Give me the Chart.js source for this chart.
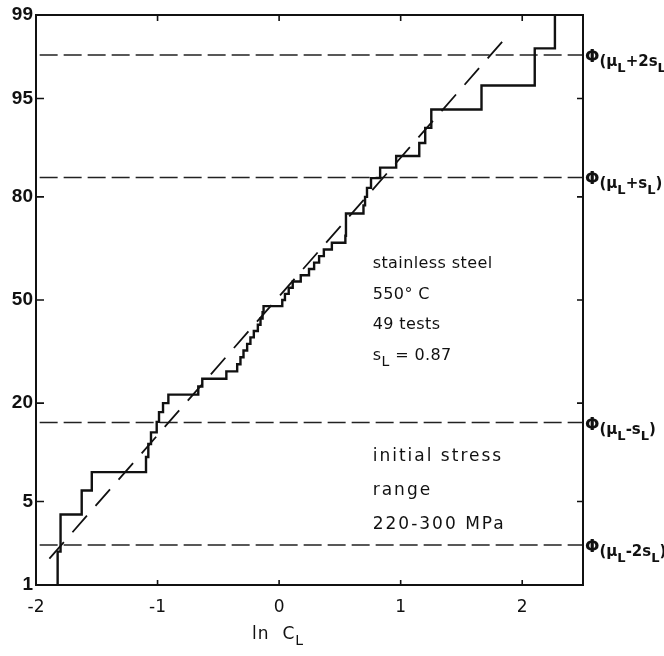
<!DOCTYPE html>
<html><head><meta charset="utf-8">
<script src="https://cdn.jsdelivr.net/npm/chart.js@4.4.1/dist/chart.umd.min.js"></script>
<style>html,body{margin:0;padding:0;background:#fff}</style>
</head><body>
<canvas id="c" width="664" height="656"></canvas>
<script>
// ---------- data ----------
const probTicks = [1, 5, 20, 50, 80, 95, 99];      // y tick labels, % (probability scale)
const xTicks = [-2, -1, 0, 1, 2];                   // ln C_L ticks
const xRange = [-2, 2.5];
const yRangePct = [1, 99];
// empirical distribution of 49 tests: ln C_L at which each step occurs
const lnC = [-1.822, -1.798, -1.624, -1.541, -1.095, -1.076, -1.054, -1.007, -0.988, -0.955,
             -0.911, -0.665, -0.632, -0.434, -0.345, -0.318, -0.293, -0.263, -0.236, -0.208,
             -0.175, -0.153, -0.136, -0.128, 0.026, 0.048, 0.079, 0.112, 0.178, 0.246,
             0.288, 0.329, 0.368, 0.434, 0.545, 0.550, 0.550, 0.550, 0.694, 0.707,
             0.723, 0.756, 0.831, 0.963, 1.153, 1.202, 1.252, 1.665, 2.103];
// cumulative percentage reached at each step
const cumPct = [2, 4, 6, 8, 10, 12, 14, 16, 18, 20, 22, 24, 26, 28, 30, 32, 34, 36, 38, 40,
                42, 44, 46, 48, 50, 52, 54, 56, 58, 60, 62, 64, 66, 68, 70, 72, 74, 76, 78, 80,
                82, 84, 86, 88, 90, 92, 94, 96, 98];
const stairEndLnC = 2.269;   // last vertical rise to top of scale
const stairEndPct = 99;
// fitted normal line (dashed)
const fitLnC = [-1.89, 1.90];
const fitPct = [1.74, 98.54];
// reference levels in units of s_L
const refSigma = [2, 1, -1, -2];
const refLabels = ["(μ_L+2s_L)", "(μ_L+s_L)", "(μ_L-s_L)", "(μ_L-2s_L)"];
const refPrefix = "Φ";
const noteA = ["stainless steel", "550° C", "49 tests", "s_L = 0.87"];
const noteB = ["initial stress", "range", "220-300 MPa"];
const xTitle = "ln  C_L";

// ---------- probability transform ----------
function probit(p){
  const a=[-3.969683028665376e+01,2.209460984245205e+02,-2.759285104469687e+02,1.383577518672690e+02,-3.066479806614716e+01,2.506628277459239e+00];
  const b=[-5.447609879822406e+01,1.615858368580409e+02,-1.556989798598866e+02,6.680131188771972e+01,-1.328068155288572e+01];
  const c=[-7.784894002430293e-03,-3.223964580411365e-01,-2.400758277161838e+00,-2.549732539343734e+00,4.374664141464968e+00,2.938163982698783e+00];
  const d=[7.784695709041462e-03,3.224671290700398e-01,2.445134137142996e+00,3.754408661907416e+00];
  const pl=0.02425, ph=1-pl; let q,r;
  if(p<pl){q=Math.sqrt(-2*Math.log(p));return (((((c[0]*q+c[1])*q+c[2])*q+c[3])*q+c[4])*q+c[5])/((((d[0]*q+d[1])*q+d[2])*q+d[3])*q+1);}
  if(p<=ph){q=p-0.5;r=q*q;return (((((a[0]*r+a[1])*r+a[2])*r+a[3])*r+a[4])*r+a[5])*q/(((((b[0]*r+b[1])*r+b[2])*r+b[3])*r+b[4])*r+1);}
  q=Math.sqrt(-2*Math.log(1-p));return -(((((c[0]*q+c[1])*q+c[2])*q+c[3])*q+c[4])*q+c[5])/((((d[0]*q+d[1])*q+d[2])*q+d[3])*q+1);
}
const Z = pct => probit(pct/100);
const yMin = Z(yRangePct[0]), yMax = Z(yRangePct[1]);

const stairData = [{x: lnC[0], y: yMin}]
  .concat(lnC.map((x,i)=>({x, y: Z(cumPct[i])})))
  .concat([{x: stairEndLnC, y: Z(stairEndPct)}]);
const fitData = fitLnC.map((x,i)=>({x, y: Z(fitPct[i])}));

// ---------- rich text helper (subscript _L) ----------
function drawRich(ctx, str, x, y, size, weight, family, spacing, subDrop){
  const parts = str.split(/(_L)/);
  let cx = x;
  ctx.textAlign = 'left'; ctx.textBaseline = 'alphabetic';
  ctx.letterSpacing = (spacing||0) + 'px';
  for (const p of parts){
    if (!p) continue;
    if (p === '_L'){
      ctx.font = `${weight} ${Math.round(size*0.85)}px ${family}`;
      ctx.fillText('L', cx, y + (subDrop!=null ? subDrop : size*0.38));
      cx += ctx.measureText('L').width;
    } else {
      ctx.font = `${weight} ${size}px ${family}`;
      ctx.fillText(p, cx, y);
      cx += ctx.measureText(p).width;
    }
  }
  ctx.letterSpacing = '0px';
  return cx - x;
}

const overlay = {
  id: 'overlay',
  afterDraw(chart){
    const {ctx, chartArea: ca, scales: {x: xs, y: ys}} = chart;
    ctx.save();
    ctx.strokeStyle = '#111'; ctx.fillStyle = '#111';
    // frame
    ctx.lineWidth = 2;
    ctx.strokeRect(ca.left, ca.top, ca.right-ca.left, ca.bottom-ca.top);
    // inward ticks
    ctx.lineWidth = 1.6;
    ctx.beginPath();
    probTicks.forEach(p=>{
      const py = ys.getPixelForValue(Z(p));
      if (p===1 || p===99) return;
      ctx.moveTo(ca.left, py); ctx.lineTo(ca.left+8, py);
      ctx.moveTo(ca.right, py); ctx.lineTo(ca.right-6, py);
    });
    xTicks.forEach(v=>{
      if (v===xRange[0]) return;
      const px = xs.getPixelForValue(v);
      ctx.moveTo(px, ca.bottom); ctx.lineTo(px, ca.bottom-5);
      ctx.moveTo(px, ca.top); ctx.lineTo(px, ca.top+6);
    });
    ctx.stroke();
    // right labels
    refSigma.forEach((s,i)=>{
      const py = ys.getPixelForValue(s);
      ctx.textAlign = 'left'; ctx.textBaseline = 'alphabetic';
      ctx.font = 'bold 17px "DejaVu Sans"';
      ctx.fillText(refPrefix, ca.right+2, py+7);
      const w = ctx.measureText(refPrefix).width;
      drawRich(ctx, refLabels[i], ca.right+2+w, py+11, 15, 'bold', '"DejaVu Sans"', 0, 6);
    });
    // notes
    const nx = xs.getPixelForValue(0.77);
    noteA.forEach((t,i)=>{
      drawRich(ctx, t, nx, 268 + i*30.5, 16, 'normal', '"DejaVu Sans"', 0.4);
    });
    noteB.forEach((t,i)=>{
      drawRich(ctx, t, nx, 461 + i*34.2, 17, 'normal', '"DejaVu Sans"', 2);
    });
    // axis title
    const tx = xs.getPixelForValue(0) - 27;
    drawRich(ctx, xTitle, tx, 639, 17, 'normal', '"DejaVu Sans"', 1);
    ctx.restore();
  }
};

new Chart(document.getElementById('c'), {
  type: 'scatter',
  data: {
    datasets: [
      {data: stairData, showLine: true, stepped: 'before', borderColor: '#111', borderWidth: 2.4,
       pointRadius: 0, borderJoinStyle: 'miter', fill: false},
      {data: fitData, showLine: true, borderColor: '#111', borderWidth: 1.8, borderDash: [22, 13],
       pointRadius: 0, fill: false},
      ...refSigma.map(s=>({data: [{x: -1.97, y: s}, {x: xRange[1], y: s}], showLine: true,
        borderColor: '#222', borderWidth: 1.3, borderDash: [18, 6], pointRadius: 0, fill: false}))
    ]
  },
  options: {
    responsive: false, animation: false, devicePixelRatio: 1,
    layout: {padding: {left: 0, right: 81, top: 15, bottom: 0}},
    plugins: {legend: {display: false}, tooltip: {enabled: false}},
    scales: {
      x: {
        type: 'linear', min: xRange[0], max: xRange[1],
        afterBuildTicks: s => { s.ticks = xTicks.map(v=>({value: v})); },
        afterFit: s => { s.height = 71; },
        grid: {display: false, drawTicks: false}, border: {display: false},
        ticks: {color: '#111', padding: 12, autoSkip: false, maxRotation: 0,
                font: {family: '"DejaVu Sans"', size: 17}, callback: v => String(v)}
      },
      y: {
        type: 'linear', min: yMin, max: yMax,
        afterBuildTicks: s => { s.ticks = probTicks.map(p=>({value: Z(p)})); },
        afterFit: s => { s.width = 36; },
        grid: {display: false, drawTicks: false}, border: {display: false},
        ticks: {color: '#111', padding: 3, autoSkip: false,
                font: {family: '"Liberation Sans"', size: 19, weight: 'bold'},
                callback: (v, i) => String(probTicks[i])}
      }
    }
  },
  plugins: [overlay]
});
</script>
</body></html>
